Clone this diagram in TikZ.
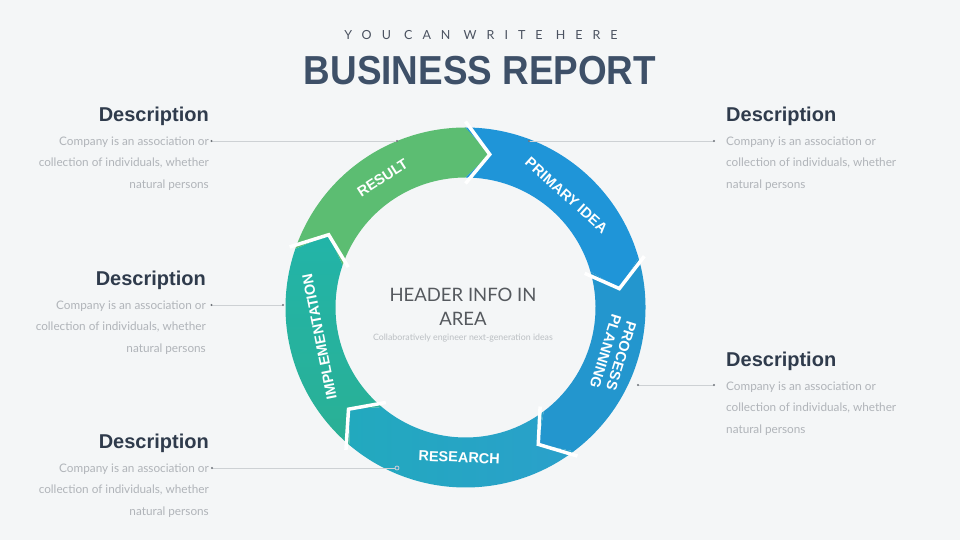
\documentclass[tikz,border=0pt]{standalone}
\usepackage{fontspec}
\setmainfont{Liberation Sans}
\newfontfamily\latofont{Lato}
\definecolor{bg}{HTML}{F4F6F7}
\definecolor{cresult}{HTML}{5CBD72}
\definecolor{cprimary}{HTML}{1F95D8}
\definecolor{cprocess}{HTML}{2396CE}
\definecolor{cresL}{HTML}{22A9BE}
\definecolor{cresR}{HTML}{2AA0CB}
\definecolor{cimplT}{HTML}{22B4A8}
\definecolor{cimplB}{HTML}{2AB095}
\definecolor{headc}{HTML}{2F3B4C}
\definecolor{titlec}{HTML}{3E5068}
\definecolor{subc}{HTML}{4A5260}
\definecolor{bodyc}{HTML}{B0B4B9}
\definecolor{linec}{HTML}{CDD1D4}
\definecolor{dotc}{HTML}{70757B}
\definecolor{centerc}{HTML}{55595E}
\definecolor{centersub}{HTML}{BBBFC3}
\newcommand{\segpath}[2]{%
  (#1:180) arc[start angle=#1, end angle=#2, radius=180] -- ({#2-9}:155) -- (#2:130)
  arc[start angle=#2, end angle=#1, radius=130] -- ({#1-9}:155) -- cycle}
\newcommand{\segsep}[1]{%
  \draw[sepline] (#1:186) -- ({#1-9}:155) -- (#1:124);}
\tikzset{
  head/.style={font=\fontsize{20}{24}\selectfont\bfseries, text=headc, inner sep=0pt},
  body/.style={font=\latofont\fontsize{11.75}{21.5}\selectfont, text=bodyc, inner sep=0pt},
  seglabel/.style={font=\fontsize{14.5}{16.5}\selectfont\bfseries, text=white, align=center, inner sep=0pt},
  conn/.style={draw=linec, line width=0.8pt},
  dotmark/.style={fill=dotc},
  sepline/.style={draw=white, line width=3.5pt, line join=miter},
}
\begin{document}
\begin{tikzpicture}[x=1pt,y=1pt]
\fill[bg] (0,0) rectangle (960,540);
\useasboundingbox (0,0) rectangle (960,540);

% titles
\node[font=\latofont\fontsize{12.5}{14}\selectfont\addfontfeature{LetterSpace=80}, text=subc, anchor=base, inner sep=0pt] (sub) at (481,500.5) {YOU CAN WRITE HERE};
\node[font=\fontsize{40.5}{44}\selectfont\bfseries, text=titlec, anchor=base, inner sep=0pt] (title) at (480,455) {\scalebox{0.91}[1]{BUSINESS REPORT}};

% ring
\begin{scope}[shift={(465.5,232.5)}]
  \fill[cresult] \segpath{161}{90};
  \fill[cprimary] \segpath{90}{16};
  \fill[cprocess] \segpath{16}{-53};
  \shade[left color=cresL, right color=cresR] \segpath{-53}{-130};
  \shade[top color=cimplT, bottom color=cimplB] \segpath{-130}{-199};
  \segsep{90}
  \segsep{16}
  \segsep{-53}
  \segsep{-130}
  \segsep{161}
  \node[seglabel, rotate=32.6] (lresult) at (122.6:154) {RESULT};
  \node[seglabel, rotate=-42] (lprimary) at (48:151) {PRIMARY IDEA};
  \node[seglabel, rotate=-107.3] (lprocess) at (-17.3:155) {PROCESS\\PLANNING};
  \node[seglabel, rotate=-2.4] (lresearch) at (-92.4:150) {RESEARCH};
  \node[seglabel, rotate=101.3] (limpl) at (191.3:149) {IMPLEMENTATION};
\end{scope}

% center text
\node[font=\latofont\fontsize{18.5}{24}\selectfont, text=centerc, align=center, anchor=north, inner sep=0pt] (ctitle) at (463,252) {HEADER INFO IN\\AREA};
\node[font=\latofont\fontsize{8.8}{10}\selectfont, text=centersub, anchor=base, inner sep=0pt] (csub) at (463,199) {Collaboratively engineer next-generation ideas};

% descriptions left
\node[head, anchor=base east] (h1) at (209,418) {Description};
\node[body, align=right, anchor=north east] (b1) at (209,403.5) {Company is an association or\\collection of individuals, whether\\natural persons};
\node[head, anchor=base east] (h2) at (206,254) {Description};
\node[body, align=right, anchor=north east] (b2) at (206,239.5) {Company is an association or\\collection of individuals, whether\\natural persons};
\node[head, anchor=base east] (h3) at (209,91) {Description};
\node[body, align=right, anchor=north east] (b3) at (209,76.5) {Company is an association or\\collection of individuals, whether\\natural persons};
% descriptions right
\node[head, anchor=base west] (h4) at (726,418) {Description};
\node[body, align=left, anchor=north west] (b4) at (726,403.5) {Company is an association or\\collection of individuals, whether\\natural persons};
\node[head, anchor=base west] (h5) at (726,173) {Description};
\node[body, align=left, anchor=north west] (b5) at (726,158.5) {Company is an association or\\collection of individuals, whether\\natural persons};

% connectors
\coordinate (c1a) at (211.5,399);  \coordinate (c1b) at (397,399);
\coordinate (c4a) at (529,399);    \coordinate (c4b) at (714,399);
\coordinate (c2a) at (211.5,235);  \coordinate (c2b) at (283,235);
\coordinate (c5a) at (638,155);    \coordinate (c5b) at (714,155);
\coordinate (c3a) at (212,72);     \coordinate (c3b) at (397,72);
\draw[conn] (c1a) -- (c1b);
\draw[conn] (c4a) -- (c4b);
\draw[conn] (c2a) -- (c2b);
\draw[conn] (c5a) -- (c5b);
\draw[conn] (c3a) -- (c3b);
\foreach \p in {c1a,c1b,c4a,c4b,c2a,c2b,c5a,c5b,c3a}{\fill[dotmark] (\p) circle (1.1);}
\draw[draw=linec, line width=0.8pt, fill=cresR] (c3b) circle (2);
\end{tikzpicture}
\end{document}
